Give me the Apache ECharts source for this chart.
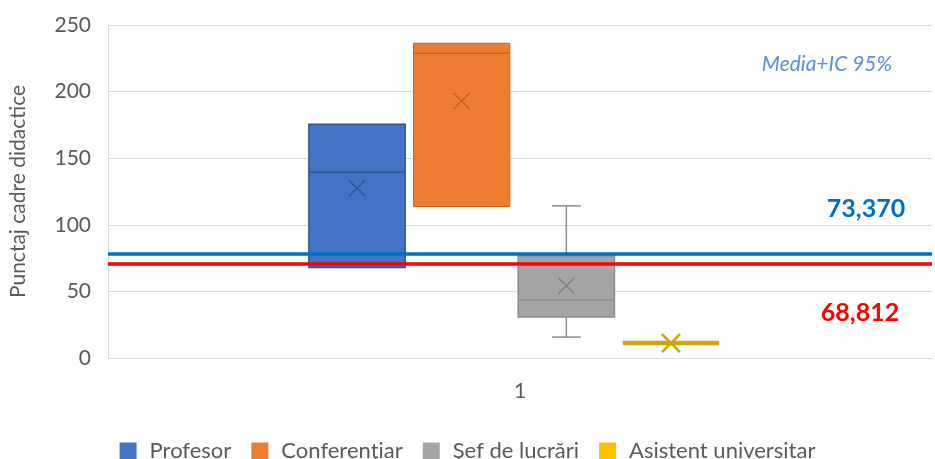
<!DOCTYPE html>
<html><head><meta charset="utf-8">
<script src="https://cdn.jsdelivr.net/npm/echarts@6/dist/echarts.min.js"></script>
<style>html,body{margin:0;padding:0;background:#fff}#c{width:935px;height:459px}</style>
</head><body><div id="c"></div>
<script>
// ---- data ----
const categories = ['Profesor', 'Conferenţiar', 'Şef de lucrări', 'Asistent universitar'];
const xLabels = ['1'];
const minVals = [68, 113.7, 15.7, 11.25];
const q1Vals = [68, 113.7, 30.8, 11.25];
const medianVals = [139.5, 228.8, 43.5, 11.25];
const q3Vals = [175.5, 236.3, 76.7, 11.25];
const maxVals = [175.5, 236.3, 114.2, 11.25];
const meanVals = [127.5, 193, 54.2, 11.25];
const ciLineVals = [78.2, 70.5];
const ciLabels = ['73,370', '68,812'];
const annotation = 'Media+IC 95%';
const yAxisTitle = 'Punctaj cadre didactice';

// ---- styles ----
const FONT = 'Lato';
const fills = ['#4472C4', '#ED7D31', '#A5A5A5', '#D4A20B'];
const legendColors = ['#4472C4', '#ED7D31', '#A5A5A5', '#FFC000'];
const borders = ['#2F5597', '#C9631F', '#8C8C8C', '#D4A20B'];
const borderWidths = [1.5, 1, 1.5, 4.5];
const meanColors = ['#2F5597', '#C0631F', '#7F7F7F', '#D4A20B'];
const meanSizes = [8, 8, 8, 9];
const meanWidths = [1.5, 1.5, 1.5, 2.5];
const ciColors = ['#0070C0', '#FF0000'];

const boxData = categories.map((c, i) => [i, minVals[i], q1Vals[i], medianVals[i], q3Vals[i], maxVals[i], meanVals[i]]);

const chart = echarts.init(document.getElementById('c'), null, {renderer: 'canvas'});

function renderBox(params, api) {
  const i = api.value(0);
  const cx = api.coord([i, 0])[0];
  const band = api.size([1, 0])[0];
  const w = band * 0.92;
  const cap = w * 0.3;
  const yMin = api.coord([i, api.value(1)])[1];
  const yQ1 = api.coord([i, api.value(2)])[1];
  const yMed = api.coord([i, api.value(3)])[1];
  const yQ3 = api.coord([i, api.value(4)])[1];
  const yMax = api.coord([i, api.value(5)])[1];
  const yMean = api.coord([i, api.value(6)])[1];
  const bc = borders[i], bw = borderWidths[i];
  const children = [];
  if (api.value(5) > api.value(4)) {
    children.push({type: 'line', shape: {x1: cx, y1: yQ3, x2: cx, y2: yMax}, style: {stroke: bc, lineWidth: 1.5}});
    children.push({type: 'line', shape: {x1: cx - cap / 2, y1: yMax, x2: cx + cap / 2, y2: yMax}, style: {stroke: bc, lineWidth: 1.5}});
  }
  if (api.value(1) < api.value(2)) {
    children.push({type: 'line', shape: {x1: cx, y1: yQ1, x2: cx, y2: yMin}, style: {stroke: bc, lineWidth: 1.5}});
    children.push({type: 'line', shape: {x1: cx - cap / 2, y1: yMin, x2: cx + cap / 2, y2: yMin}, style: {stroke: bc, lineWidth: 1.5}});
  }
  if (yQ1 - yQ3 > 0.5) {
    children.push({type: 'rect', shape: {x: cx - w / 2, y: yQ3, width: w, height: yQ1 - yQ3}, style: {fill: fills[i], stroke: bc, lineWidth: bw}});
    children.push({type: 'line', shape: {x1: cx - w / 2, y1: yMed, x2: cx + w / 2, y2: yMed}, style: {stroke: bc, lineWidth: 1.5}});
  } else {
    children.push({type: 'line', shape: {x1: cx - w / 2, y1: yMed, x2: cx + w / 2, y2: yMed}, style: {stroke: bc, lineWidth: bw}});
  }
  const s = meanSizes[i];
  children.push({type: 'line', shape: {x1: cx - s, y1: yMean - s, x2: cx + s, y2: yMean + s}, style: {stroke: meanColors[i], lineWidth: meanWidths[i]}});
  children.push({type: 'line', shape: {x1: cx - s, y1: yMean + s, x2: cx + s, y2: yMean - s}, style: {stroke: meanColors[i], lineWidth: meanWidths[i]}});
  return {type: 'group', children};
}

const legendSeries = categories.map((c, i) => ({
  name: c, type: 'bar', data: [], xAxisIndex: 0, yAxisIndex: 0,
  itemStyle: {color: legendColors[i]}
}));

chart.setOption({
  animation: false,
  backgroundColor: '#ffffff',
  textStyle: {fontFamily: FONT},
  grid: [
    {left: 105, right: 3, top: 25, bottom: 101},
    {left: 304.7, right: 211.7, top: 25, bottom: 101}
  ],
  xAxis: [
    {type: 'category', gridIndex: 0, data: xLabels,
      axisLine: {show: true, lineStyle: {color: '#D9D9D9', width: 1}},
      axisTick: {show: false},
      axisLabel: {color: '#595959', fontSize: 21, fontFamily: FONT, margin: 23}},
    {type: 'category', gridIndex: 1, data: categories, show: false}
  ],
  yAxis: [
    {type: 'value', gridIndex: 0, min: 0, max: 250, interval: 50,
      name: yAxisTitle, nameLocation: 'middle', nameGap: 79,
      nameTextStyle: {color: '#595959', fontSize: 21, fontFamily: FONT},
      axisLine: {show: true, lineStyle: {color: '#D9D9D9', width: 1}},
      axisTick: {show: false},
      splitLine: {lineStyle: {color: '#D9D9D9', width: 1}},
      axisLabel: {color: '#595959', fontSize: 21, fontFamily: FONT, margin: 17}},
    {type: 'value', gridIndex: 1, min: 0, max: 250, interval: 50, show: false, splitLine: {show: false}}
  ],
  legend: {
    data: categories, top: 435, left: 'center',
    icon: 'rect', itemWidth: 17, itemHeight: 17, itemGap: 20,
    textStyle: {color: '#595959', fontSize: 22, fontFamily: FONT, padding: [0, 0, 0, 8]}
  },
  graphic: [
    {type: 'text', x: 827, y: 64, silent: true, style: {text: annotation, fill: '#5B8ED6', font: 'italic 21px ' + FONT, textAlign: 'center', textVerticalAlign: 'middle'}},
    {type: 'text', x: 866, y: 209, silent: true, style: {text: ciLabels[0], fill: ciColors[0], font: 'bold 25px ' + FONT, textAlign: 'center', textVerticalAlign: 'middle'}},
    {type: 'text', x: 860, y: 313, silent: true, style: {text: ciLabels[1], fill: ciColors[1], font: 'bold 25px ' + FONT, textAlign: 'center', textVerticalAlign: 'middle'}}
  ],
  series: [
    ...legendSeries,
    {type: 'custom', name: 'boxes', xAxisIndex: 1, yAxisIndex: 1, data: boxData,
      encode: {x: 0, y: [1, 2, 3, 4, 5, 6]}, renderItem: renderBox, z: 2},
    {type: 'line', name: 'ci', xAxisIndex: 0, yAxisIndex: 0, data: [], z: 10,
      markLine: {silent: true, symbol: 'none', label: {show: false},
        data: ciLineVals.map((v, i) => ({yAxis: v, lineStyle: {color: ciColors[i], width: 3.5, type: 'solid'}}))}}
  ]
});
</script>
</body></html>
